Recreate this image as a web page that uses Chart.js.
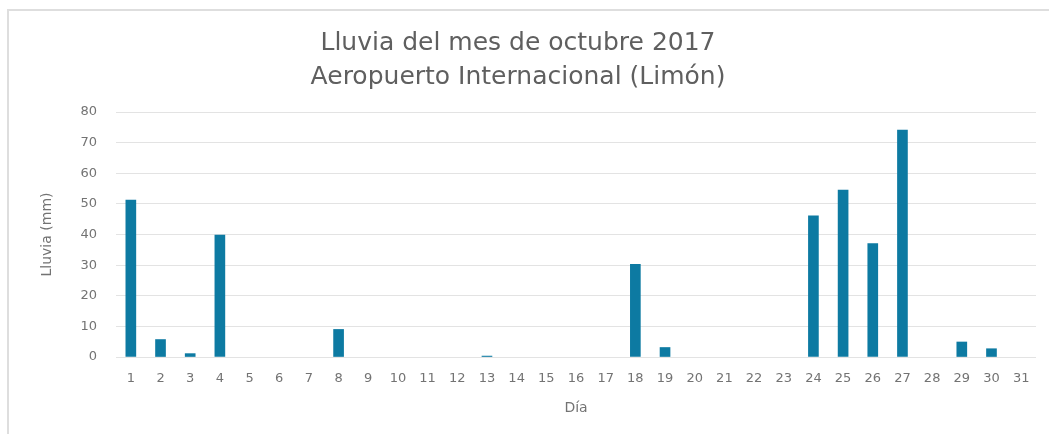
<!DOCTYPE html>
<html>
<head>
<meta charset="utf-8">
<script src="https://cdn.jsdelivr.net/npm/chart.js@4.4.1/dist/chart.umd.min.js"></script>
<style>
  html, body { margin: 0; padding: 0; background: #fff; overflow: hidden; }
  #chart { position: absolute; left: 0; top: 0; }
</style>
</head>
<body>
<canvas id="chart" width="1049" height="434"></canvas>
<script>
// datos
const dias = ['1', '2', '3', '4', '5', '6', '7', '8', '9', '10', '11', '12', '13', '14', '15', '16',
  '17', '18', '19', '20', '21', '22', '23', '24', '25', '26', '27', '28', '29', '30', '31'];
const lluvia = [51.2, 5.7, 1.1, 39.8, 0, 0, 0, 9.0, 0, 0, 0, 0, 0.3, 0, 0, 0,
  0, 30.3, 3.1, 0, 0, 0, 0, 46.1, 54.5, 37.0, 74.1, 0, 4.9, 2.7, 0];
const titulo = ['Lluvia del mes de octubre 2017', 'Aeropuerto Internacional (Limón)'];
const yMin = 0, yMax = 80, yStep = 10;

const fontName = '"DejaVu Sans", "Open Sans", sans-serif';
const textGray = '#737373';
const barColor = '#0d7aa2';

// marco gris: en la captura solo se ven los lados izquierdo y superior
const marco = {
  id: 'marco',
  beforeDraw(chart) {
    const c = chart.ctx;
    c.save();
    c.strokeStyle = '#dedede';
    c.lineWidth = 2;
    c.beginPath();
    c.moveTo(8, chart.height);
    c.lineTo(8, 10);
    c.lineTo(chart.width, 10);
    c.stroke();
    c.restore();
  }
};

const ctx = document.getElementById('chart').getContext('2d');
new Chart(ctx, {
  type: 'bar',
  data: {
    labels: dias,
    datasets: [{
      data: lluvia,
      // los dias sin lluvia no dejan marca
      backgroundColor: c => (c.raw > 0 ? barColor : 'rgba(0,0,0,0)'),
      barThickness: 10,
      borderWidth: 0
    }]
  },
  options: {
    responsive: false,
    animation: false,
    devicePixelRatio: 1,
    layout: { padding: { left: 0, right: 13, top: 0, bottom: 0 } },
    plugins: {
      legend: { display: false },
      tooltip: { enabled: false },
      title: {
        display: true,
        text: titulo,
        color: '#5f5f5f',
        font: { family: fontName, size: 25, weight: 'normal', lineHeight: 1.34 },
        padding: { top: 27, bottom: 18 }
      }
    },
    scales: {
      x: {
        grid: { display: false, drawTicks: false },
        border: { display: false },
        ticks: { color: textGray, font: { family: fontName, size: 13 }, padding: 14, maxRotation: 0, autoSkip: false },
        title: { display: true, text: 'Día', color: textGray, font: { family: fontName, size: 14 }, padding: { top: 0, bottom: 17 } },
        afterFit: function(s) { s.height = 77; }
      },
      y: {
        min: yMin, max: yMax,
        grid: { color: '#e3e3e3', drawTicks: false },
        border: { display: false },
        ticks: { stepSize: yStep, color: textGray, font: { family: fontName, size: 13 }, padding: 19 },
        title: { display: true, text: 'Lluvia (mm)', color: textGray, font: { family: fontName, size: 14 }, padding: { top: 39, bottom: 0 } },
        afterFit: function(s) { s.width = 116; }
      }
    }
  },
  plugins: [marco]
});
</script>
</body>
</html>
